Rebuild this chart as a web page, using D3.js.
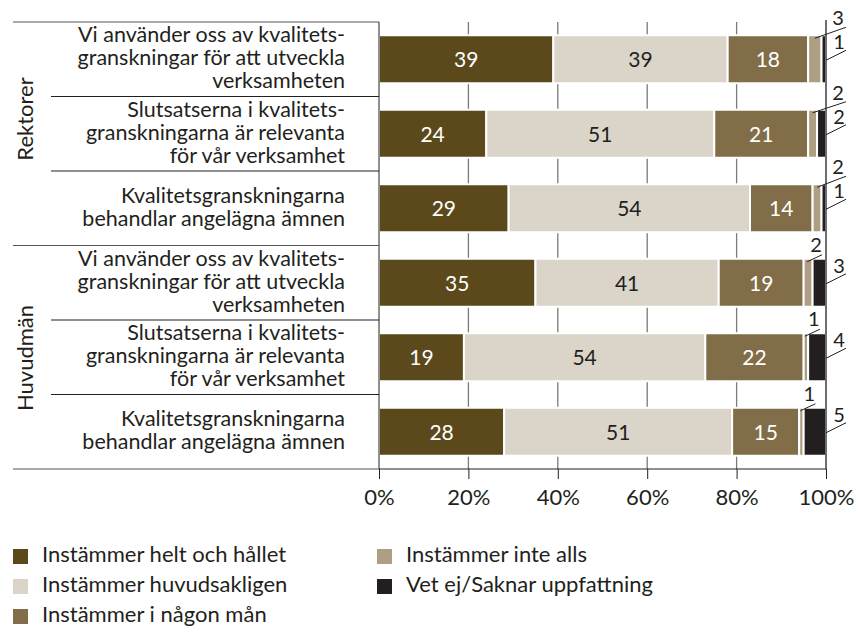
<!DOCTYPE html>
<html>
<head>
<meta charset="utf-8">
<script src="https://cdn.jsdelivr.net/npm/d3@7"></script>
<style>
  body { margin: 0; background: #fff; }
  text { font-family: Lato, "Open Sans", sans-serif; fill: #231f20; }
</style>
</head>
<body>
<div id="viz"></div>
<script>
// data
const groups = ["Rektorer", "Huvudmän"];
const questions = [
    ["Vi använder oss av kvalitets-", "granskningar för att utveckla", "verksamheten"],
    ["Slutsatserna i kvalitets-", "granskningarna är relevanta", "för vår verksamhet"],
    ["Kvalitetsgranskningarna", "behandlar angelägna ämnen"]
];
const rowGroup = [0, 0, 0, 1, 1, 1];
const rowQuestion = [0, 1, 2, 0, 1, 2];
const series = ["Instämmer helt och hållet", "Instämmer huvudsakligen", "Instämmer i någon mån",
    "Instämmer inte alls", "Vet ej/Saknar uppfattning"];
const heltOchHallet = [39, 24, 29, 35, 19, 28];
const huvudsakligen = [39, 51, 54, 41, 54, 51];
const nagonMan = [18, 21, 14, 19, 22, 15];
const inteAlls = [3, 2, 2, 2, 1, 1];
const vetEj = [1, 2, 1, 3, 4, 5];
const xTicks = [0, 20, 40, 60, 80, 100];

const width = 858;
const height = 632;
const colors = ["#5b491c", "#dad4c9", "#816d48", "#ae9f84", "#231f20"];
const textColors = ["#fff", "#231f20", "#fff"];

const svg = d3.select("#viz")
    .append("svg")
    .attr("width", width)
    .attr("height", height);

const values = [heltOchHallet, huvudsakligen, nagonMan, inteAlls, vetEj];
const rows = rowGroup.map((g, i) => {
    const r = { index: i, group: g, question: rowQuestion[i] };
    series.forEach((s, k) => r[s] = values[k][i]);
    return r;
});
const stacked = d3.stack().keys(series)(rows);

const xScale = d3.scaleLinear().domain([0, 100]).range([379, 826]);
const yScale = d3.scaleBand().domain(d3.range(rows.length)).range([22, 469]);
const barH = 48;
const barTop = i => yScale(i) + yScale.bandwidth() / 2 - barH / 2 + 1;

// grid lines behind bars
svg.append("g")
    .selectAll("line")
    .data(xTicks.filter(t => t > 0 && t < 100))
    .enter().append("line")
    .attr("x1", d => xScale(d)).attr("x2", d => xScale(d))
    .attr("y1", 22).attr("y2", 469)
    .attr("stroke", "#7a7a7a")
    .attr("stroke-width", 1.3);

// bars
const layers = svg.append("g")
    .selectAll("g")
    .data(stacked)
    .enter().append("g")
    .attr("fill", (d, i) => colors[i]);

layers.selectAll("rect")
    .data(d => d)
    .enter().append("rect")
    .attr("x", d => xScale(d[0]))
    .attr("width", d => Math.max(0, xScale(d[1]) - xScale(d[0])))
    .attr("y", (d, i) => barTop(i) - 1)
    .attr("height", barH)
    .attr("stroke", "#fff")
    .attr("stroke-width", 2);

// right 100% line and left axis
svg.append("line")
    .attr("x1", xScale(100)).attr("x2", xScale(100))
    .attr("y1", 20).attr("y2", 469)
    .attr("stroke", "#231f20").attr("stroke-width", 1.3);
svg.append("line")
    .attr("x1", xScale(0)).attr("x2", xScale(0))
    .attr("y1", 22).attr("y2", 469)
    .attr("stroke", "#231f20").attr("stroke-width", 1);

// x axis
const xAxis = d3.axisBottom(xScale)
    .tickValues(xTicks)
    .tickFormat(d => d + "%")
    .tickSize(10)
    .tickPadding(10);
const xAxisG = svg.append("g")
    .attr("transform", `translate(0, 469)`)
    .call(xAxis);
xAxisG.select(".domain").attr("stroke", "#231f20").attr("d", `M${xScale(0)},0H${xScale(100)}`);
xAxisG.selectAll(".tick line").attr("stroke", "#231f20");
xAxisG.selectAll(".tick text")
    .attr("font-size", 22)
    .attr("font-family", "Lato, sans-serif")
    .attr("fill", "#231f20");

// labels inside bars
layers.each(function (layer, k) {
    if (k > 2) return;
    d3.select(this).selectAll("text")
        .data(layer)
        .enter().append("text")
        .attr("x", d => (xScale(d[0]) + xScale(d[1])) / 2)
        .attr("y", (d, i) => barTop(i) + barH / 2 + 7)
        .attr("text-anchor", "middle")
        .attr("font-size", 21)
        .style("fill", textColors[k])
        .text(d => d[1] - d[0]);
});

// small values outside with leader lines
const small = svg.append("g");
rows.forEach((r, i) => {
    const top = barTop(i);
    const mid = top + barH / 2 - 1;
    const s4 = stacked[3][i];
    const c4 = (xScale(s4[0]) + xScale(s4[1])) / 2;
    let lx, ly, tx, ty;
    if (r.group === 0) {
        lx = [c4, 846]; ly = [top + 2, top - 9];
        tx = 838; ty = top - 11;
    } else {
        lx = [c4 - 1, c4 + 14]; ly = [top + 2, top - 5];
        tx = c4 + 8; ty = top - 8;
    }
    small.append("line")
        .attr("x1", lx[0]).attr("y1", ly[0]).attr("x2", lx[1]).attr("y2", ly[1])
        .attr("stroke", "#231f20").attr("stroke-width", 1);
    small.append("text")
        .attr("x", tx).attr("y", ty)
        .attr("text-anchor", "middle").attr("font-size", 20)
        .text(r[series[3]]);

    small.append("line")
        .attr("x1", xScale(100)).attr("y1", mid + 1)
        .attr("x2", 846).attr("y2", mid - 9)
        .attr("stroke", "#231f20").attr("stroke-width", 1);
    small.append("text")
        .attr("x", 839).attr("y", mid - 10)
        .attr("text-anchor", "middle").attr("font-size", 20)
        .text(r[series[4]]);
});

// row labels and separators
const labels = svg.append("g");
rows.forEach((r, i) => {
    const lines = questions[r.question];
    const cy = yScale(i) + yScale.bandwidth() / 2;
    const first = cy - (lines.length - 1) / 2 * 23 + 6;
    labels.append("text")
        .attr("text-anchor", "end")
        .attr("font-size", 21.5)
        .selectAll("tspan")
        .data(lines)
        .enter().append("tspan")
        .attr("x", 345)
        .attr("y", (d, j) => first + j * 23)
        .text(d => d);
});

const sepY = d3.range(rows.length + 1).map(i => i < rows.length ? yScale(i) : 469);
svg.append("g")
    .selectAll("line")
    .data(sepY)
    .enter().append("line")
    .attr("x1", (d, i) => i % 3 === 0 ? 13 : 51)
    .attr("x2", xScale(0))
    .attr("y1", d => d).attr("y2", d => d)
    .attr("stroke", (d, i) => i % 3 === 0 ? "#555" : "#231f20")
    .attr("stroke-width", 1.2);

// group labels
const groupY = [119, 358];
svg.append("g")
    .selectAll("text")
    .data(groups)
    .enter().append("text")
    .attr("transform", (d, i) => `translate(33, ${groupY[i]}) rotate(-90)`)
    .attr("text-anchor", "middle")
    .attr("font-size", 22)
    .text(d => d);

// legend
const legend = svg.append("g");
const legendItems = legend.selectAll("g")
    .data(series)
    .enter().append("g")
    .attr("transform", (d, i) => `translate(${i < 3 ? 13 : 377}, ${562 + (i % 3) * 30})`);
legendItems.append("rect")
    .attr("x", 0).attr("y", -13)
    .attr("width", 15).attr("height", 15)
    .attr("fill", (d, i) => colors[i]);
legendItems.append("text")
    .attr("x", 29).attr("y", 0)
    .attr("font-size", 22)
    .text(d => d);
</script>
</body>
</html>
